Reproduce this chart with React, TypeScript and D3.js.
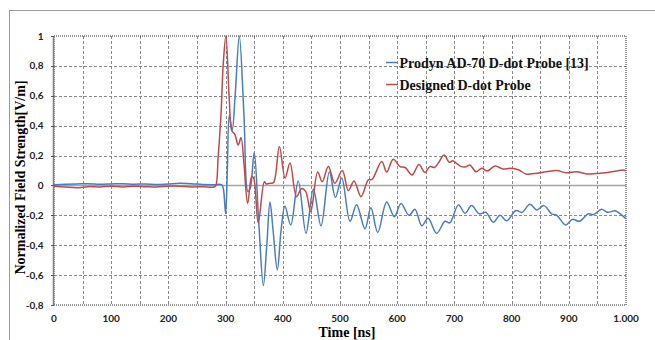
import { useEffect, useRef } from 'react';
import * as d3 from 'd3';

// Prodyn AD-70 probe response, [time ns, normalized value]
const prodynPoints: [number, number][] = [
    [0, 0.005], [20, 0.008], [40, 0.01], [60, 0.012], [80, 0.008], [100, 0.01],
    [120, 0.012], [140, 0.008], [160, 0.01], [180, 0.006], [200, 0.01], [220, 0.014],
    [240, 0.012], [260, 0.006], [280, 0.005], [293, 0.005], [296, -0.02], [300, -0.19],
    [303, 0.1], [306.5, 0.47], [311.5, 0.37], [317, 0.62], [324, 1.0], [332, 0.48],
    [339, -0.04], [343, -0.02], [350, 0.22], [358, -0.25], [366, -0.67], [372, -0.4],
    [377.6, -0.11], [383, -0.3], [390.4, -0.565], [397, -0.3], [403.8, -0.14],
    [413.8, -0.265], [427, 0.03], [440.6, -0.32], [453.4, -0.025], [466.8, -0.27],
    [481.4, 0.09], [492, -0.08], [503, 0.05], [517.5, -0.24], [529, -0.13],
    [543.7, -0.29], [554, -0.15], [566, -0.315], [581.6, -0.11], [595, -0.21],
    [606.6, -0.12], [620.6, -0.2], [631, -0.16], [643, -0.27], [654, -0.22],
    [669, -0.32], [683.6, -0.24], [692, -0.25], [707, -0.13], [718.5, -0.186],
    [730, -0.135], [743.5, -0.19], [755, -0.18], [768, -0.246], [779.7, -0.2],
    [791.4, -0.237], [807.7, -0.168], [818, -0.18], [832, -0.126], [844, -0.164],
    [856.6, -0.135], [870, -0.19], [879, -0.2], [894.6, -0.264], [906.7, -0.226],
    [918.4, -0.24], [934, -0.19], [943, -0.195], [957.5, -0.16], [968, -0.18],
    [980.8, -0.17], [990, -0.19], [1000, -0.224]
];

// Designed D-dot probe response
const designedPoints: [number, number][] = [
    [0, -0.005], [20, -0.01], [40, -0.015], [60, -0.008], [80, -0.01], [100, -0.005],
    [120, -0.01], [140, -0.005], [160, -0.008], [180, -0.01], [200, -0.005], [220, -0.005],
    [240, -0.01], [260, -0.008], [280, -0.01], [283, 0.0], [287, 0.19], [292, 0.48],
    [296, 0.82], [300.5, 1.0], [306.5, 0.57], [310.6, 0.37], [316.4, 0.34], [322, 0.27],
    [327, 0.32], [332, 0.15], [338.6, -0.12], [345.6, 0.06], [349, 0.05], [357, -0.25],
    [367.7, 0.025], [371, 0.01], [378, 0.015], [384, 0.02], [394, 0.26], [404, 0.05],
    [412.6, 0.15], [424, -0.075], [433, -0.02], [440, -0.04], [448.7, -0.175], [461, 0.09],
    [469, 0.025], [479.6, 0.126], [491, 0.015], [504, 0.1], [514.6, -0.035], [524.5, 0.03],
    [536.7, -0.075], [549.5, 0.037], [556, 0.04], [573, 0.16], [581.6, 0.09], [593, 0.175],
    [605, 0.126], [614, 0.12], [626, 0.07], [638, 0.14], [648.6, 0.086], [657, 0.126],
    [665, 0.12], [672, 0.15], [682, 0.204], [691, 0.155], [697, 0.165], [703, 0.15],
    [712, 0.126], [720, 0.125], [727, 0.137], [737.8, 0.092], [747.7, 0.115], [757.5, 0.097],
    [771, 0.13], [785, 0.11], [798, 0.115], [812, 0.105], [825, 0.077], [840, 0.08],
    [861, 0.092], [879, 0.1], [895, 0.085], [914, 0.092], [931, 0.077], [948, 0.08],
    [965, 0.085], [983.7, 0.097], [995, 0.104], [1000, 0.097]
];

const xTicks = [0, 100, 200, 300, 400, 500, 600, 700, 800, 900, 1000];
const yTicks = [-0.8, -0.6, -0.4, -0.2, 0, 0.2, 0.4, 0.6, 0.8, 1];
const seriesNames = ["Prodyn AD-70 D-dot Probe [13]", "Designed D-dot Probe"];
const seriesColors = ["#4A7EBB", "#BE4B48"];

export default function App() {
    const svgRef = useRef<SVGSVGElement>(null);

    useEffect(() => {
        if (!svgRef.current) return;
        const svg = d3.select(svgRef.current);
        svg.selectAll("*").remove();

        const width = 655, height = 340;
        const plot = { left: 54, right: 626, top: 36, bottom: 305 };

        const locale = d3.formatLocale({ decimal: ",", thousands: ".", grouping: [3], currency: ["", ""], minus: "-" });
        const fmtX = locale.format(",");
        const fmtY = locale.format(".1~f");

        const x = d3.scaleLinear().domain([0, 1000]).range([plot.left, plot.right]);
        const y = d3.scaleLinear().domain([-0.8, 1]).range([plot.bottom, plot.top]);

        svg.append("rect").attr("width", width).attr("height", height).attr("fill", "#fff");

        // outer chart frame (cut off at right/bottom)
        svg.append("rect")
            .attr("x", 9.5).attr("y", 10.5)
            .attr("width", 700).attr("height", 400)
            .attr("fill", "none").attr("stroke", "#9a9a9a");

        // grid
        const grid = svg.append("g").attr("stroke", "#8a8a8a").attr("stroke-dasharray", "3,2");
        grid.selectAll("line.v")
            .data(d3.range(50, 1000, 50))
            .enter().append("line")
            .attr("x1", d => Math.round(x(d)) + 0.5).attr("x2", d => Math.round(x(d)) + 0.5)
            .attr("y1", plot.top).attr("y2", plot.bottom);
        grid.selectAll("line.h")
            .data(yTicks.filter(d => d !== 0 && d !== -0.8 && d !== 1))
            .enter().append("line")
            .attr("x1", plot.left).attr("x2", plot.right)
            .attr("y1", d => Math.round(y(d)) + 0.5).attr("y2", d => Math.round(y(d)) + 0.5);

        // zero line
        svg.append("line")
            .attr("x1", plot.left).attr("x2", plot.right)
            .attr("y1", y(0)).attr("y2", y(0))
            .attr("stroke", "#a6a6a6").attr("stroke-width", 1.5);

        // plot border (dotted)
        svg.append("rect")
            .attr("x", plot.left).attr("y", plot.top)
            .attr("width", plot.right - plot.left).attr("height", plot.bottom - plot.top)
            .attr("fill", "none").attr("stroke", "#222").attr("stroke-dasharray", "1,1");

        // left axis line + ticks
        svg.append("line")
            .attr("x1", plot.left - 0.5).attr("x2", plot.left - 0.5)
            .attr("y1", plot.top).attr("y2", plot.bottom)
            .attr("stroke", "#7f7f7f").attr("stroke-width", 1.5);
        svg.selectAll("line.ytick")
            .data(yTicks)
            .enter().append("line")
            .attr("x1", plot.left - 3).attr("x2", plot.left)
            .attr("y1", d => Math.round(y(d)) + 0.5).attr("y2", d => Math.round(y(d)) + 0.5)
            .attr("stroke", "#555");

        // series
        svg.append("clipPath").attr("id", "plotClip")
            .append("rect")
            .attr("x", plot.left).attr("y", plot.top - 1)
            .attr("width", plot.right - plot.left).attr("height", plot.bottom - plot.top + 2);

        const line = d3.line<[number, number]>()
            .x(d => x(d[0]))
            .y(d => y(d[1]))
            .curve(d3.curveCatmullRom.alpha(0.5));

        [prodynPoints, designedPoints].forEach((pts, i) => {
            svg.append("path")
                .datum(pts)
                .attr("clip-path", "url(#plotClip)")
                .attr("fill", "none")
                .attr("stroke", seriesColors[i])
                .attr("stroke-width", 1.5)
                .attr("stroke-linejoin", "round")
                .attr("d", line);
        });

        // tick labels
        svg.selectAll("text.yl")
            .data(yTicks)
            .enter().append("text")
            .attr("x", 43.5).attr("y", d => y(d))
            .attr("dy", "0.35em")
            .attr("text-anchor", "end")
            .attr("font-family", "Lato, sans-serif").attr("font-weight", "bold").attr("font-size", 10)
            .attr("fill", "#222")
            .text(d => fmtY(d));

        svg.selectAll("text.xl")
            .data(xTicks)
            .enter().append("text")
            .attr("x", d => x(d)).attr("y", 322)
            .attr("text-anchor", "middle")
            .attr("font-family", "Lato, sans-serif").attr("font-weight", "bold").attr("font-size", 10)
            .attr("fill", "#222")
            .text(d => fmtX(d));

        // axis titles
        svg.append("text")
            .attr("x", 347).attr("y", 336.5)
            .attr("text-anchor", "middle")
            .attr("font-family", "'Liberation Serif', 'Times New Roman', serif")
            .attr("font-weight", "bold").attr("font-size", 14)
            .text("Time [ns]");

        svg.append("text")
            .attr("transform", "translate(25,177.5) rotate(-90)")
            .attr("text-anchor", "middle")
            .attr("font-family", "'Liberation Serif', 'Times New Roman', serif")
            .attr("font-weight", "bold").attr("font-size", 14)
            .text("Normalized Field Strength[V/m]");

        // legend
        const legend = svg.append("g");
        seriesNames.forEach((name, i) => {
            const ly = 62.5 + i * 22;
            legend.append("line")
                .attr("x1", 386).attr("x2", 398)
                .attr("y1", ly).attr("y2", ly)
                .attr("stroke", seriesColors[i]).attr("stroke-width", 1.5);
            legend.append("text")
                .attr("x", 399.5).attr("y", ly + 5)
                .attr("font-family", "'Liberation Serif', 'Times New Roman', serif")
                .attr("font-weight", "bold").attr("font-size", 14)
                .attr("fill", "#111")
                .text(name);
        });
    }, []);

    return (
        <div style={{ position: "fixed", left: 0, top: 0 }}>
            <svg ref={svgRef} width={655} height={340} style={{ display: "block" }} />
        </div>
    );
}
